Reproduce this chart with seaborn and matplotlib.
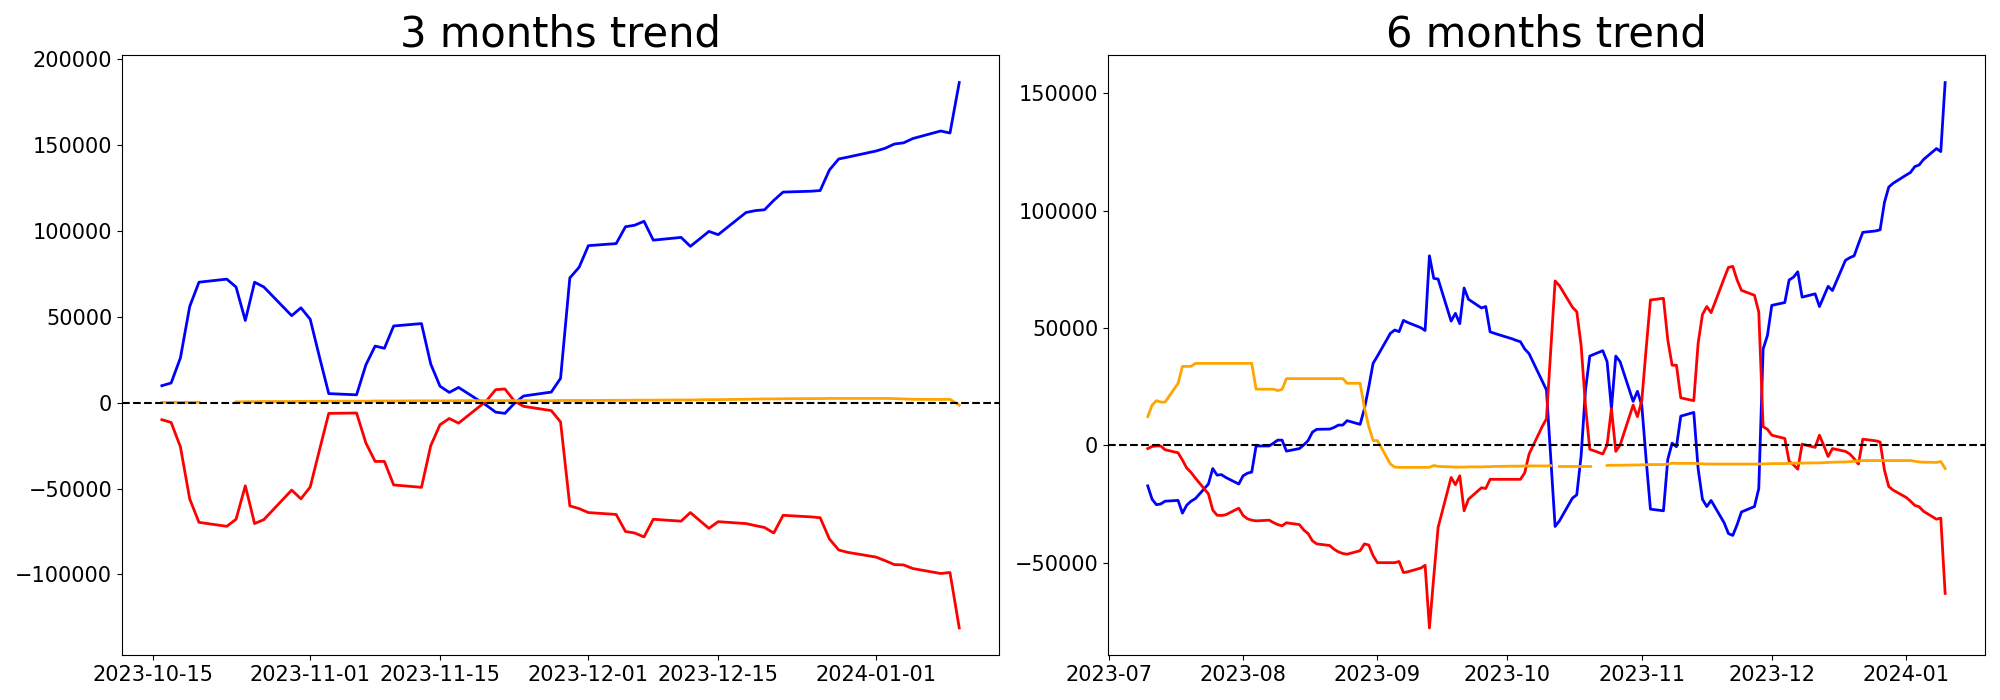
"""
Trend chart: 3 months vs 6 months, three series around a zero line.
"""

import numpy as np
import pandas as pd
import matplotlib
matplotlib.use("Agg")
import matplotlib.pyplot as plt
import seaborn as sns

nan = np.nan

# ------------------------------------------------------------------ #
# Data (business days)
# ------------------------------------------------------------------ #
dates_3m = pd.bdate_range("2023-10-16", "2024-01-10")
dates_6m = pd.bdate_range("2023-07-10", "2024-01-10")

# --- 3 months -------------------------------------------------------
blue_3m = (
    [9900, 11500, 26100, 56000, 70200, 72000, 67400, 47900, 70200, 67400, 50700, 55300]
    + [48600, 26600, 5300, 4600, 22000, 33000, 31700, 44700, 46100, 22500, 9600,
       6000, 8900, -1500, -5500, -6200, -500, 3900, 6200, 14200, 72700, 78900]
    + [91500, 92700, 102500, 103400, 105700, 94700, 96300, 91100, 95400, 99800, 97900,
       110800, 111900, 112400, 117900, 122700, 123200, 123600, 135600, 142000, 143100]
    + [146600, 148200, 150700, 151400, 153900, 158300, 157100, 186500]
)
red_3m = (
    [-9900, -11500, -25700, -56000, -69700, -72000, -67900, -48400, -70400, -68100,
     -50900, -56000]
    + [-49100, -27500, -6200, -6000, -23400, -34200, -34200, -47900, -49300, -25000,
       -12800, -9200, -11900, 1000, 7600, 8000, 1100, -2100, -4600, -11200, -60100, -61700]
    + [-64000, -65100, -75000, -75900, -78200, -67900, -69000, -64000, -68600, -73200,
       -69300, -70400, -71600, -72700, -75900, -65600, -66500, -67000, -79400, -85800, -87200]
    + [-89900, -92000, -94300, -94500, -96600, -99500, -98900, -131200]
)
orange_3m = (
    [200, 200, 200, 200, 300, nan, 500, 600, 600, 700, 700, 800]
    + [800, 800, 900, 900, 900, 1000, 1000, 1000, 1100, 1100, 1100,
       1100, 1200, 1200, 1200, 1200, 1200, 1200, 1200, 1300, 1300, 1300]
    + [1300, 1400, 1400, 1500, 1500, 1500, 1600, 1600, 1700, 1800, 1800,
       2000, 2100, 2200, 2200, 2300, 2400, 2400, 2500, 2500, 2500]
    + [2500, 2500, 2400, 2200, 2000, 1900, 2000, -1400]
)

# --- 6 months -------------------------------------------------------
blue_6m = (
    [-17300, -23000, -25300, -25000, -23800, -23500, -28900, -25500, -23800, -22700,
     -16500, -9900, -12700, -12500, -13700, -16500]
    + [-13000, -11900, -11400, -300, -300, 900, 2200, 2200, -2500, -1400, 150, 2000,
       5600, 6800, 6900, 7600, 8600, 8600, 10500, 8900, 15600, 24800, 34900]
    + [38000, 47700, 49100, 48400, 53200, 52300, 50100, 48900, 80700, 71100, 70800,
       52900, 56200, 51800, 67000, 62200, 58500, 59100, 48300, 47700, 47100]
    + [45400, 44700, 44100, 41000, 39000, 27500, 23600, -5500, -34600, -32200, -22500,
       -21100, -4500, 23300, 38000, 40300, 35600, 15600, 38000, 35600, 18700, 23000]
    + [17100, -6000, -27200, -27900, -6000, 900, -600, 12400, 14000, -9900, -23000,
       -26100, -23500, -33000, -37600, -38400, -33800, -28400, -26100, -18400, 41000, 46800]
    + [59600, 60800, 70400, 71600, 73900, 63100, 64500, 59100, 63400, 67700, 65900,
       78800, 79900, 80700, 85800, 90700, 91300, 91800, 103500, 110000, 111600]
    + [115100, 116200, 118700, 119400, 121700, 126400, 125100, 154500]
)
red_6m = (
    [-1400, -500, -300, -300, -1900, -3200, -6300, -9700, -11600, -14000, -20700,
     -27600, -29800, -29900, -29600, -26800]
    + [-29900, -31300, -31900, -32200, -31900, -32900, -33800, -34300, -33000, -33800,
       -36100, -37600, -40700, -42000, -42700, -44300, -45400, -46100, -46400, -44900,
       -42000, -42500, -47000]
    + [-50000, -50000, -50000, -49500, -54200, -53900, -52300, -51100, -77800, -56000,
       -35000, -13700, -16800, -13000, -27900, -23000, -18100, -18400, -14500, -14500, -14500]
    + [-14500, -14500, -14500, -11700, -3700, 7900, 11300, 40700, 70000, 68000, 58800,
       56900, 42600, 17000, -1700, -3700, 150, 15600, -2600, 150, 17100, 12200]
    + [19000, 41000, 61900, 62600, 44900, 34100, 34100, 20200, 19000, 43400, 55700,
       59100, 56500, 71100, 75800, 76200, 70400, 66000, 63900, 56800, 7900, 6800]
    + [4300, 2900, -6800, -8300, -10200, 500, -900, 4300, -150, -4800, -1400, -2600,
       -3700, -5700, -8000, 2600, 1900, 1400, -10600, -17600, -19100]
    + [-22200, -23800, -25600, -26200, -28100, -31500, -31000, -63100]
)
orange_6m = (
    [12200, 17100, 19000, 18400, 18400, 26400, 33600, 33600, 33600, 34900, 34900,
     34900, 34900, 34900, 34900, 34900]
    + [34900, 34900, 34900, 23900, 23900, 23900, 23300, 23800, 28400, 28400, 28400,
       28400, 28400, 28400, 28400, 28400, 28400, 28400, 26400, 26400, 16000, 8000, 2000]
    + [2000, -8000, -9300, -9400, -9400, -9400, -9400, -9400, -9400, -8600, -9000,
       -9200, -9300, -9300, -9300, -9200, -9200, -9100, -9100, -9000, -9000]
    + [-8900, -8900, -8900, -8800, -8800, -8800, -8800, -8700, nan, -8700, -8700,
       -8700, -8700, -8700, -8700, nan, -8600, -8500, -8500, -8500, -8400, -8400]
    + [-8300, -8300, -8200, -8200, -8000, -7600, -7700, -7700, -7700, -7800, -7900,
       -8000, -8000, -8000, -8000, -8000, -8000, -8000, -8000, -8000, -7900, -7900]
    + [-7800, -7800, -7700, -7600, -7600, -7600, -7500, -7500, -7400, -7300, -7200,
       -7100, -7000, -6800, -6700, -6500, -6500, -6500, -6500, -6500, -6500]
    + [-6500, -6500, -6800, -7100, -7200, -7300, -6900, -9900]
)

SERIES_ORDER = ["blue", "red", "orange"]
PALETTE = {"blue": "blue", "red": "red", "orange": "orange"}


# ------------------------------------------------------------------ #
# Helpers
# ------------------------------------------------------------------ #
def to_long(dates, series):
    """Long frame; NaN values split a series into separate segments."""
    frames = []
    for name, vals in series.items():
        s = pd.Series(vals, dtype=float)
        seg = s.isna().cumsum()
        df = pd.DataFrame({
            "date": dates,
            "value": s.values,
            "series": name,
            "seg": seg.values,
        })
        frames.append(df.dropna(subset=["value"]))
    return pd.concat(frames, ignore_index=True)


def draw_panel(ax, df, title):
    sns.lineplot(
        data=df, x="date", y="value", hue="series", units="seg",
        estimator=None, hue_order=SERIES_ORDER, palette=PALETTE,
        linewidth=2, legend=False, ax=ax,
    )
    ax.axhline(0, color="black", linestyle="--", linewidth=1.5)
    ax.set_title(title, fontsize=30)
    ax.set_xlabel("")
    ax.set_ylabel("")
    ax.tick_params(axis="both", labelsize=15)


# ------------------------------------------------------------------ #
# Plot
# ------------------------------------------------------------------ #
df_3m = to_long(dates_3m, {"blue": blue_3m, "red": red_3m, "orange": orange_3m})
df_6m = to_long(dates_6m, {"blue": blue_6m, "red": red_6m, "orange": orange_6m})

fig, axes = plt.subplots(1, 2, figsize=(20, 7), dpi=100)
plt.subplots_adjust(left=0.061, right=0.9925, bottom=0.064, top=0.921, wspace=0.124)

draw_panel(axes[0], df_3m, "3 months trend")
draw_panel(axes[1], df_6m, "6 months trend")

plt.savefig("out.png", dpi=100)
plt.close()
